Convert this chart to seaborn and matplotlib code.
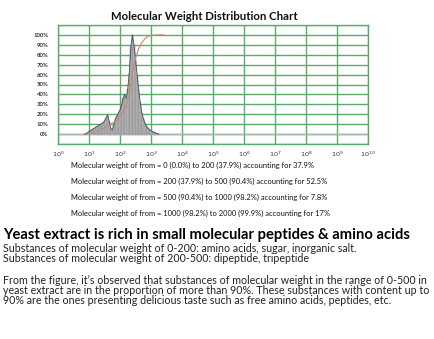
import matplotlib
matplotlib.use("Agg")
import matplotlib.pyplot as plt
import seaborn as sns
import numpy as np
import pandas as pd

# ---- data (log10 of molecular weight vs. relative content %) ----
dist_log_mw = [0.85, 0.90, 0.95, 1.00, 1.05, 1.10, 1.15, 1.20, 1.25, 1.30,
               1.35, 1.40, 1.45, 1.50, 1.55, 1.60, 1.65, 1.70, 1.75, 1.80,
               1.85, 1.90, 1.95, 2.00, 2.05, 2.10, 2.15, 2.20, 2.25, 2.30,
               2.35, 2.40, 2.45, 2.50, 2.55, 2.60, 2.65, 2.70, 2.75, 2.80,
               2.85, 2.90, 2.95, 3.00, 3.05, 3.10, 3.15, 3.20, 3.25]
dist_pct = [0, 0.5, 1.5, 2.5, 3.5, 4.5, 5.5, 6.5, 7.5, 8.5,
            9.5, 10.5, 11.5, 13, 16, 19.5, 13, 6, 4, 9,
            15, 18, 21, 24, 29, 36, 40, 36, 45, 62,
            88, 100, 90, 76, 60, 45, 32, 22, 16, 11,
            8, 6, 4.5, 3.5, 2.5, 1.8, 1.1, 0.5, 0]

cum_log_mw = [0.9, 1.2, 1.5, 1.7, 1.9, 2.1, 2.2, 2.3, 2.4, 2.5, 2.6, 2.7, 2.8, 2.9, 3.0, 3.2, 3.4]
cum_pct = [0, 2, 6, 10, 14, 22, 28, 40, 62, 76, 86, 92, 96, 98.5, 99.5, 100, 100]

x_ticks = list(range(0, 11))
x_tick_labels = ["$10^{%d}$" % i for i in x_ticks]
y_ticks = list(range(0, 101, 10))
y_tick_labels = ["%d%%" % v for v in y_ticks]

title = "Molecular Weight Distribution Chart"
range_lines = [
    "Molecular weight of from = 0 (0.0%) to 200 (37.9%) accounting for 37.9%",
    "Molecular weight of from = 200 (37.9%) to 500 (90.4%) accounting for 52.5%",
    "Molecular weight of from = 500 (90.4%) to 1000 (98.2%) accounting for 7.8%",
    "Molecular weight of from = 1000 (98.2%) to 2000 (99.9%) accounting for 17%",
]
heading = "Yeast extract is rich in small molecular peptides & amino acids"
body_lines = [
    "Substances of molecular weight of 0-200: amino acids, sugar, inorganic salt.",
    "Substances of molecular weight of 200-500: dipeptide, tripeptide",
    "",
    "From the figure, it\u2019s observed that substances of molecular weight in the range of 0-500 in",
    "yeast extract are in the proportion of more than 90%. These substances with content up to",
    "90% are the ones presenting delicious taste such as free amino acids, peptides, etc.",
]

# ---- figure ----
sns.set_theme(style="white")
FONT = "Lato"
plt.rcParams["font.family"] = [FONT, "DejaVu Sans"]

W, H = 435, 339
fig = plt.figure(figsize=(W / 100, H / 100), dpi=100)
fig.patch.set_facecolor("white")
ax = fig.add_axes([58 / W, 1 - 144 / H, 310 / W, (144 - 25) / H])

df = pd.DataFrame({"logmw": dist_log_mw, "pct": dist_pct})
cdf = pd.DataFrame({"logmw": cum_log_mw, "pct": cum_pct})

grid_c = "#5aab6c"
ax.set_xlim(0, 10)
ax.set_ylim(-10, 110)
for v in x_ticks:
    ax.axvline(v, color=grid_c, lw=1.0, zorder=0)
for v in range(-10, 111, 10):
    ax.axhline(v, color=grid_c, lw=1.0, zorder=0)
ax.axhline(0, color="#b0b0c0", lw=1.0, zorder=1)

sns.histplot(data=df, x="logmw", weights="pct", binwidth=0.05,
             binrange=(0.825, 3.275), color="#b8b8b8", edgecolor="#8a8a90",
             linewidth=0.3, alpha=1.0, ax=ax, zorder=2)
sns.lineplot(data=df, x="logmw", y="pct", color="#505866", lw=0.7, ax=ax, zorder=3)
sns.lineplot(data=cdf, x="logmw", y="pct", color="#c88a6a", lw=0.8, ax=ax, zorder=4)

ax.set_xlabel("")
ax.set_ylabel("")
ax.set_xticks(x_ticks)
ax.set_xticklabels(x_tick_labels, fontsize=4.6, fontweight="bold", color="#333333")
ax.set_yticks(y_ticks)
ax.set_yticklabels(y_tick_labels, fontsize=4.3, fontweight="bold", color="#333333")
ax.tick_params(axis="x", length=0, pad=4)
ax.tick_params(axis="y", length=0, pad=7)
for s in ax.spines.values():
    s.set_color(grid_c)
    s.set_linewidth(1.0)

fig.text(204 / W, 1 - 17 / H, title, ha="center", va="center",
         fontsize=8.2, fontweight="bold", color="#111111")

for i, t in enumerate(range_lines):
    y = [165, 181, 197, 213][i]
    fig.text(71 / W, 1 - y / H, t, ha="left", va="center", fontsize=5.4, color="#111111")

fig.text(3 / W, 1 - 235 / H, heading, ha="left", va="center",
         fontsize=10.6, fontweight="bold", color="#000000")
body_y = [248, 259, 270, 280, 291, 301]
for t, y in zip(body_lines, body_y):
    if t:
        fig.text(3 / W, 1 - y / H, t, ha="left", va="center", fontsize=7.7, color="#222222")

fig.savefig("out.png", dpi=100, facecolor="white")
